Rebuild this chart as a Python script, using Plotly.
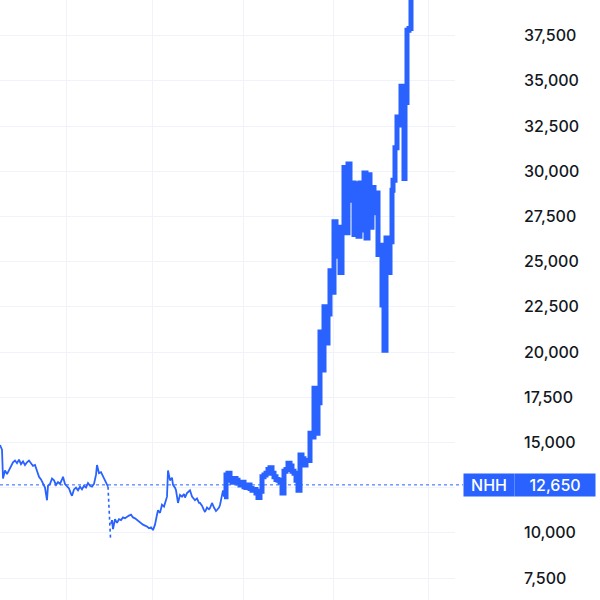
import plotly.graph_objects as go

BLUE = "#2962ff"

# Thin early segment (time index, price)
t_a = [0, 2, 3, 5, 7, 9, 11, 13, 15, 17, 19, 21, 23, 25, 27, 29, 31, 33, 35, 37, 39, 41, 43, 45, 47, 48, 50, 52, 54, 56, 58, 60, 62, 63, 65, 67, 69, 71, 72, 74, 76, 78, 80, 82, 84, 86, 88, 90, 92, 94, 96, 97, 99, 101, 103, 105, 107, 108]
p_a = [14850, 14600, 13000, 13450, 13250, 13500, 13650, 13900, 14000, 13850, 14050, 13800, 13950, 13750, 13900, 14000, 13850, 13700, 13750, 13400, 13100, 12950, 12700, 12500, 11800, 12600, 12700, 13000, 12900, 12650, 12800, 12700, 12950, 13100, 12700, 12600, 12450, 12150, 12050, 12400, 12500, 12350, 12550, 12400, 12600, 12500, 12750, 12600, 12550, 12700, 13200, 13750, 13300, 13350, 13100, 12900, 12700, 12550]

# Gap connector (drawn dashed)
t_gap = [108, 110.5]
p_gap = [12550, 9700]

# Thin middle segment
t_b = [111, 112, 113, 115, 117, 119, 121, 123, 125, 127, 129, 131, 133, 135, 137, 139, 141, 143, 145, 147, 149, 151, 153, 155, 157, 158, 160, 162, 164, 166, 167, 168, 170, 172, 173, 175, 176, 178, 180, 182, 184, 185, 187, 189, 190, 192, 194, 195, 197, 199, 200, 202, 204, 205, 207, 209, 210, 212, 214, 216, 217, 219, 220, 222, 223, 224]
p_b = [10500, 10700, 10200, 10750, 10550, 10750, 10700, 10850, 10800, 10900, 10950, 11000, 10850, 10800, 10700, 10600, 10550, 10450, 10400, 10350, 10250, 10300, 10150, 10450, 11000, 11250, 11100, 11550, 11450, 11800, 12000, 13450, 12900, 13050, 12650, 12500, 12350, 11650, 12100, 12000, 12150, 11950, 12200, 12300, 12350, 12000, 11900, 11800, 11900, 11650, 11650, 11500, 11250, 11150, 11400, 11300, 11370, 11650, 11400, 11200, 11260, 11400, 11540, 12000, 12350, 12000]

# Thick late segment
t_c = [224, 226, 228, 230, 232, 234, 236, 238, 240, 242, 244, 246, 248, 250, 252, 254, 256, 258, 260, 262, 264, 266, 268, 270, 272, 274, 276, 278, 280, 282, 284, 286, 288, 290, 292, 294, 296, 298, 300, 302, 304, 306, 308, 310, 312, 314, 316, 318, 320, 322, 324, 326, 328, 330, 332, 334, 336, 338, 340, 342, 344, 346, 348, 350, 352, 354, 356, 358, 360, 362, 364, 366, 368, 370, 372, 374, 376, 378, 380, 382, 384, 386, 388, 390, 392, 393, 395, 397, 399, 401, 403, 404, 405, 407, 409, 411]
p_c = [12000, 13200, 13300, 12900, 12800, 13000, 12900, 12750, 12650, 12800, 12550, 12500, 12650, 12450, 12350, 12400, 12200, 11950, 12300, 13100, 13200, 13300, 13500, 13600, 13300, 13100, 12950, 12900, 12800, 12200, 13400, 13500, 13850, 13700, 13400, 13300, 12900, 12350, 14300, 14100, 13750, 14000, 14000, 15500, 15300, 18000, 15500, 17200, 21100, 19000, 22500, 20500, 22100, 24500, 23300, 27200, 25300, 26900, 24400, 26600, 30200, 26600, 30400, 28400, 29350, 26500, 29300, 26400, 29350, 26750, 29900, 26300, 29800, 26900, 29100, 27700, 28800, 25400, 25900, 22600, 20100, 26300, 24400, 26100, 28950, 29500, 31300, 33000, 32550, 34700, 34500, 29600, 33800, 37800, 37900, 40500]

y_ticks = [7500, 10000, 12500, 15000, 17500, 20000, 22500, 25000, 27500, 30000, 32500, 35000, 37500]
x_grid = [66, 152, 243, 333, 428]
last_price = 12650
symbol = "NHH"

fig = go.Figure()
fig.add_trace(go.Scatter(x=t_a, y=p_a, mode="lines", line=dict(color=BLUE, width=1.8), hoverinfo="skip"))
fig.add_trace(go.Scatter(x=t_gap, y=p_gap, mode="lines", line=dict(color=BLUE, width=1.6, dash="3px,3px"), hoverinfo="skip"))
fig.add_trace(go.Scatter(x=t_b, y=p_b, mode="lines", line=dict(color=BLUE, width=1.8), hoverinfo="skip"))
fig.add_trace(go.Scatter(x=t_c, y=p_c, mode="lines", line=dict(color=BLUE, width=5, shape="hv"), hoverinfo="skip"))

fig.add_shape(type="line", xref="paper", yref="y", x0=0, x1=463/455, y0=last_price, y1=last_price,
              line=dict(color=BLUE, width=1, dash="dot"), layer="above")

font_lbl = dict(family="Inter, Roboto, sans-serif", size=16, color="white", weight=500)
fig.add_annotation(xref="paper", yref="y", x=463/455, y=last_price, xanchor="left", yanchor="middle",
                   text=symbol, showarrow=False, bgcolor=BLUE, width=48, height=20, borderpad=1,
                   font=font_lbl, align="center")
fig.add_annotation(xref="paper", yref="y", x=514/455, y=last_price, xanchor="left", yanchor="middle",
                   text=f"{last_price:,}", showarrow=False, bgcolor=BLUE, width=78, height=20, borderpad=1,
                   font=font_lbl, align="center")

# the 12,500 label sits under the price tag in the reference
tick_text = ["" if v == 12500 else f"{v:,}" for v in y_ticks]

fig.update_layout(
    width=600, height=600,
    margin=dict(l=0, r=145, t=0, b=0),
    paper_bgcolor="white", plot_bgcolor="white",
    showlegend=False,
    hovermode=False,
    xaxis=dict(range=[0, 455], tickvals=x_grid, showticklabels=False, showgrid=True,
               gridcolor="#f0f3fa", gridwidth=1, zeroline=False, showline=False, fixedrange=True),
    yaxis=dict(range=[6283, 39470], side="right", tickvals=y_ticks,
               ticktext=tick_text, showgrid=True, gridcolor="#f0f3fa", gridwidth=1,
               zeroline=False, showline=False, ticks="", ticklabelstandoff=68, fixedrange=True,
               tickfont=dict(family="Inter, Roboto, sans-serif", size=16, color="#131722", weight=500)),
)

fig.write_html("out.html", config={"displayModeBar": False},
               post_script="document.body.style.margin='0';document.body.style.padding='0';")
